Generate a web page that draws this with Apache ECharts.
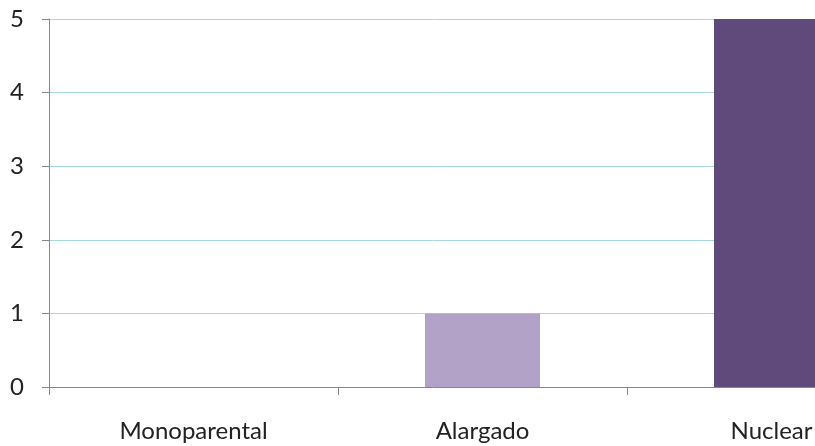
<!DOCTYPE html>
<html>
<head>
<meta charset="utf-8">
<script src="https://cdn.jsdelivr.net/npm/echarts@6/dist/echarts.min.js"></script>
<style>
  html, body { margin: 0; padding: 0; background: #ffffff; }
  #chart { width: 815px; height: 446px; }
</style>
</head>
<body>
<div id="chart"></div>
<script>
// Household types and their counts
const categories = ['Monoparental', 'Alargado', 'Nuclear'];
const counts = [0, 1, 5];
const barColors = ['#b3a2c7', '#b3a2c7', '#604a7b'];
const yTicks = [0, 1, 2, 3, 4, 5];

const chart = echarts.init(document.getElementById('chart'), null, { renderer: 'canvas' });

const font = 'Lato, "Open Sans", sans-serif';

chart.setOption({
  animation: false,
  backgroundColor: '#ffffff',
  // the plot area runs past the right edge, so the last column is cut off
  grid: { left: 49, top: 19, width: 867, height: 368, containLabel: false, outerBoundsMode: 'none' },
  xAxis: {
    type: 'category',
    data: categories,
    boundaryGap: true,
    axisLine: { show: true, lineStyle: { color: '#878787', width: 1 } },
    axisTick: { show: true, alignWithLabel: false, length: 8, lineStyle: { color: '#878787' } },
    axisLabel: { color: '#222222', fontSize: 24, fontFamily: font, margin: 32 },
    splitLine: { show: false }
  },
  yAxis: {
    type: 'value',
    min: yTicks[0],
    max: yTicks[yTicks.length - 1],
    interval: 1,
    axisLine: { show: true, lineStyle: { color: '#878787', width: 1 } },
    axisTick: { show: true, length: 7, lineStyle: { color: '#878787' } },
    axisLabel: { color: '#222222', fontSize: 24, fontFamily: font, margin: 25 },
    splitLine: { show: true, lineStyle: { color: '#a6d8dc', width: 1 } }
  },
  series: [{
    type: 'bar',
    barWidth: 115,
    data: counts.map((v, i) => ({ value: v, itemStyle: { color: barColors[i] } }))
  }]
});
</script>
</body>
</html>
